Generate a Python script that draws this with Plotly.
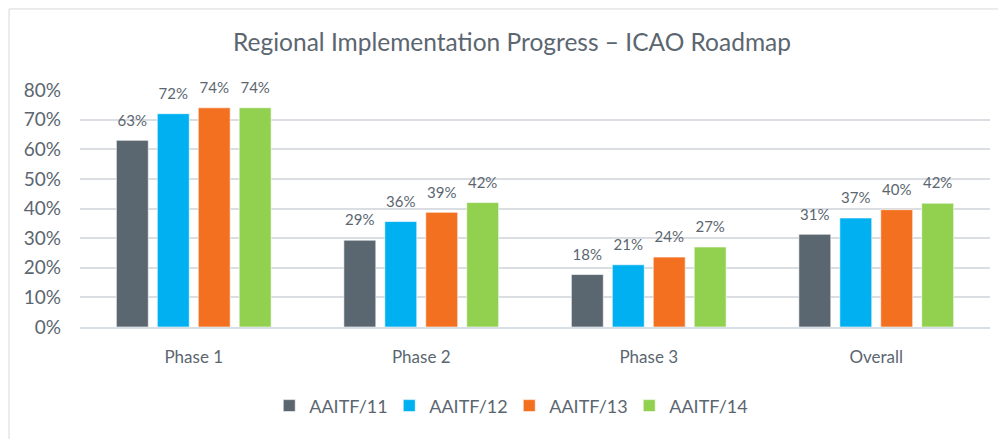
import plotly.graph_objects as go

categories = ["Phase 1", "Phase 2", "Phase 3", "Overall"]
series_names = ["AAITF/11", "AAITF/12", "AAITF/13", "AAITF/14"]
aaitf11 = [0.63, 0.293, 0.177, 0.313]
aaitf12 = [0.72, 0.356, 0.21, 0.368]
aaitf13 = [0.74, 0.387, 0.236, 0.396]
aaitf14 = [0.74, 0.42, 0.27, 0.418]
y_ticks = [0, 0.1, 0.2, 0.3, 0.4, 0.5, 0.6, 0.7, 0.8]

colors = ["#5A6770", "#00B0F0", "#F37021", "#92D050"]
text_color = "#5B6670"
font_family = "Lato, Noto Sans, sans-serif"

all_series = [aaitf11, aaitf12, aaitf13, aaitf14]

fig = go.Figure()
for i, (name, vals, col) in enumerate(zip(series_names, all_series, colors)):
    fig.add_trace(go.Bar(
        name=name, x=categories, y=vals, offsetgroup=str(i),
        marker=dict(color=col, line=dict(color="rgba(255,255,255,0.6)", width=1)),
        cliponaxis=False,
    ))
for i, vals in enumerate(all_series):
    fig.add_trace(go.Scatter(
        x=categories, y=vals, offsetgroup=str(i), mode="markers+text",
        marker=dict(size=16, opacity=0, color="white"),
        texttemplate="%{y:.0%}", textposition="top center",
        textfont=dict(size=15, color=text_color, family=font_family),
        showlegend=False, hoverinfo="skip", cliponaxis=False,
    ))

# page has an 8px body margin; figure is offset accordingly
fig.update_layout(
    width=998, height=431,
    margin=dict(l=72, r=16, t=82, b=112),
    paper_bgcolor="white", plot_bgcolor="white",
    barmode="group", bargap=0.28, bargroupgap=0.22,
    scattermode="group", scattergap=0.28,
    font=dict(family=font_family, color=text_color),
    title=dict(text="Regional Implementation Progress – ICAO Roadmap",
               x=0.505, xanchor="center", y=0.921, yanchor="middle",
               font=dict(size=24.5, color=text_color, family=font_family)),
    showlegend=True,
    legend=dict(orientation="h", x=0.4717, xanchor="center", y=-0.333, yanchor="middle",
                font=dict(size=18, color=text_color, family=font_family),
                entrywidth=75, entrywidthmode="pixels", traceorder="normal"),
    xaxis=dict(showgrid=False, showline=True, linecolor="#D6DEE6", linewidth=2,
               tickfont=dict(size=17, color=text_color, family=font_family),
               ticks="", ticklabelstandoff=14),
    yaxis=dict(range=[0, 0.8], tickvals=y_ticks, tickformat=".0%",
               showgrid=True, gridcolor="#DADDE1", gridwidth=1.5,
               zeroline=False, showline=False, ticks="",
               tickfont=dict(size=19, color=text_color, family=font_family),
               ticklabelstandoff=18),
    shapes=[dict(type="rect", xref="paper", yref="paper",
                 x0=-0.078, x1=1.03, y0=-0.55, y1=1.342,
                 line=dict(color="#D9D9D9", width=1), fillcolor="rgba(0,0,0,0)", layer="below")],
)

fig.write_html("out.html")
